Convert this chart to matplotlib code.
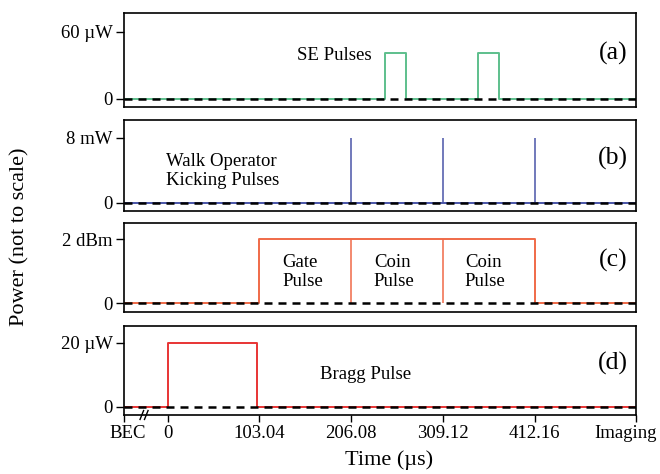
import numpy as np
import matplotlib
matplotlib.use("Agg")
import matplotlib.pyplot as plt
import matplotlib.transforms as mtransforms

plt.rcParams['font.family'] = ['Liberation Serif', 'DejaVu Serif']

# eje de tiempo (us); BEC e Imaging son posiciones simbolicas
t_bec = -49
t_img = 526
xticks = [t_bec, 0, 103.04, 206.08, 309.12, 412.16, t_img]
xticklabels = ['BEC', '0', '103.04', '206.08', '309.12', '412.16', 'Imaging']

# (a) pulsos SE
se_starts = [244, 348]
se_ends = [268, 372]
se_height = 41
# (b) pulsos de patada
kick_times = [206.08, 309.12, 412.16]
kick_height = 8
# (c) pulsos gate / coin
gate_edges = [103.04, 206.08, 309.12, 412.16]
gate_height = 2
# (d) pulso Bragg
bragg_start = 0
bragg_end = 100
bragg_height = 20

paneles = [
    # etiqueta, tick superior, texto del tick, ylim, color
    ('(a)', 60, '60 \u00b5W', (-7.4, 76.7), '#5dbf8c'),
    ('(b)', 8, '8 mW', (-1.02, 10.2), '#4a55a8'),
    ('(c)', 2, '2 dBm', (-0.27, 2.51), '#f06a48'),
    ('(d)', 20, '20 \u00b5W', (-2.6, 25.2), '#e83434'),
]
filas_px = [(13, 107), (120, 211), (223, 312), (326, 415)]


def escalon(inicios, finales, altura):
    """Construye una traza rectangular a partir de los flancos."""
    xs = [t_bec]
    ys = [0]
    for a, b in zip(inicios, finales):
        xs += [a, a, b, b]
        ys += [0, altura, altura, 0]
    xs.append(t_img)
    ys.append(0)
    return xs, ys


fig = plt.figure(figsize=(6.6, 4.74), dpi=100)
W, H = 660, 474
ejes = []
for (lab, ytop, ylab, ylim, col), (top, bot) in zip(paneles, filas_px):
    ax = fig.add_axes([124 / W, 1 - bot / H, 512 / W, (bot - top) / H])
    ax.set_xlim(t_bec, t_img)
    ax.set_ylim(*ylim)
    ax.set_yticks([0, ytop])
    ax.set_yticklabels(['0', ylab])
    ax.tick_params(axis='y', direction='out', length=6, width=1, labelsize=13.5, pad=2)
    for s in ax.spines.values():
        s.set_linewidth(1.2)
    ax.axhline(0, color='black', lw=1.8, ls=(0, (3.2, 2.4)), zorder=5)
    ax.text(500, ylim[1] * 0.53, lab, fontsize=18.5, ha='center', va='center')
    ejes.append(ax)

# (a)
ax = ejes[0]
xs, ys = escalon(se_starts, se_ends, se_height)
ax.plot(xs, ys, color=paneles[0][4], lw=1.4)
ax.text(145, 39, 'SE Pulses', fontsize=13.5, va='center')

# (b)
ax = ejes[1]
ax.axhline(0, color=paneles[1][4], lw=1.4, zorder=2)
ax.vlines(kick_times, 0, kick_height, color=paneles[1][4], lw=1.1)
ax.text(-2, 3.9, 'Walk Operator\nKicking Pulses', fontsize=13.5, va='center', linespacing=1.15)

# (c)
ax = ejes[2]
xs, ys = escalon([gate_edges[0]], [gate_edges[-1]], gate_height)
ax.plot(xs, ys, color=paneles[2][4], lw=1.4)
ax.vlines(gate_edges[1:-1], 0, gate_height, color=paneles[2][4], lw=1.1)
ax.text(129, 0.99, 'Gate\nPulse', fontsize=13.5, va='center', linespacing=1.15)
ax.text(231.5, 0.99, 'Coin\nPulse', fontsize=13.5, va='center', linespacing=1.15)
ax.text(333.7, 0.99, 'Coin\nPulse', fontsize=13.5, va='center', linespacing=1.15)

# (d)
ax = ejes[3]
xs, ys = escalon([bragg_start], [bragg_end], bragg_height)
ax.plot(xs, ys, color=paneles[3][4], lw=1.4)
ax.text(171, 10.2, 'Bragg Pulse', fontsize=13.5, va='center')

for ax in ejes[:-1]:
    ax.set_xticks([])
ax = ejes[-1]
ax.set_xticks(xticks)
ax.set_xticklabels(xticklabels)
ax.tick_params(axis='x', direction='out', length=5, width=1, labelsize=13.5, pad=2)
# desplazar BEC e Imaging hacia dentro como en el original
etiquetas = ax.get_xticklabels()
etiquetas[0].set_transform(etiquetas[0].get_transform() + mtransforms.ScaledTranslation(4 / 100, 0, fig.dpi_scale_trans))
etiquetas[-1].set_transform(etiquetas[-1].get_transform() + mtransforms.ScaledTranslation(-10 / 100, 0, fig.dpi_scale_trans))

# marca de corte del eje entre BEC y 0
tr = ax.get_xaxis_transform()
for dx in (-29, -24):
    ax.plot([dx - 2, dx + 2], [-0.05, 0.05], color='k', lw=1, transform=tr, clip_on=False)

fig.text(0.03, 0.5, 'Power (not to scale)', rotation=90, fontsize=16, ha='center', va='center')
fig.text(0.59, 0.03, 'Time (\u00b5s)', fontsize=16, ha='center', va='center')

fig.savefig('out.png', dpi=100)
